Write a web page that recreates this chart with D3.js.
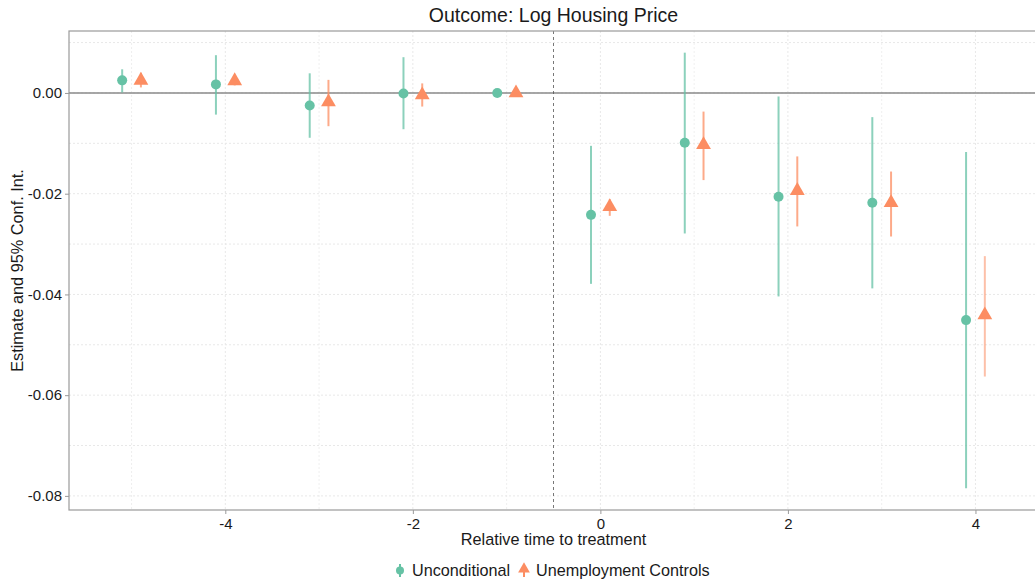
<!DOCTYPE html>
<html>
<head>
<meta charset="utf-8">
<style>
  body { margin: 0; background: #fff; font-family: "Liberation Sans", Arial, sans-serif; }
  svg { display: block; }
</style>
</head>
<body>
<svg width="1035" height="580"></svg>
<script src="https://cdn.jsdelivr.net/npm/d3@7"></script>
<script>
// relative periods
let periods = [-5, -4, -3, -2, -1, 0, 1, 2, 3, 4];

// Unconditional estimates and CI
let uncEst = [0.0025, 0.0017, -0.0025, -0.0001, 0, -0.0242, -0.0099, -0.0206, -0.0218, -0.0451];
let uncLo  = [0.0001, -0.0043, -0.0089, -0.0072, 0, -0.0379, -0.0279, -0.0404, -0.0388, -0.0785];
let uncHi  = [0.0047, 0.0075, 0.0039, 0.0071, 0, -0.0105, 0.0080, -0.0007, -0.0048, -0.0117];

// Unemployment controls estimates and CI
let ctlEst = [0.0025, 0.0024, -0.0018, -0.0004, 0, -0.0226, -0.0103, -0.0194, -0.0218, -0.0441];
let ctlLo  = [0.0011, 0.0015, -0.0066, -0.0027, 0, -0.0244, -0.0173, -0.0265, -0.0285, -0.0563];
let ctlHi  = [0.0040, 0.0033, 0.0026, 0.0019, 0, -0.0211, -0.0037, -0.0126, -0.0156, -0.0324];

let yTicks = [0, -0.02, -0.04, -0.06, -0.08];
let xTicks = [-4, -2, 0, 2, 4];

let green = "#66c2a5", orange = "#fc8d62";

let pLeft = 69, pTop = 31, pBottom = 510, pRight = 1038;

let svg = d3.select("svg");

let x = d3.scaleLinear().domain([-5.667, 4.667]).range([pLeft, pRight]);
let y = d3.scaleLinear().domain([0.0123, -0.0828]).range([pTop, pBottom]);

// grid
let grid = svg.append("g");
d3.range(-5, 5).forEach(t => {
  grid.append("line")
    .attr("x1", x(t)).attr("x2", x(t)).attr("y1", pTop).attr("y2", pBottom)
    .attr("stroke", "#e8e8e8").attr("stroke-width", t % 2 == 0 ? 1 : 0.7)
    .attr("stroke-dasharray", "2,2");
});
d3.range(0.01, -0.085, -0.01).forEach(v => {
  grid.append("line")
    .attr("x1", pLeft).attr("x2", pRight).attr("y1", y(v)).attr("y2", y(v))
    .attr("stroke", "#e8e8e8").attr("stroke-width", 1)
    .attr("stroke-dasharray", "2,2");
});

// zero line and treatment line
svg.append("line")
  .attr("x1", pLeft).attr("x2", pRight).attr("y1", y(0)).attr("y2", y(0))
  .attr("stroke", "#8a8a8a").attr("stroke-width", 1.5);
svg.append("line")
  .attr("x1", x(-0.5)).attr("x2", x(-0.5)).attr("y1", pTop).attr("y2", pBottom)
  .attr("stroke", "#555").attr("stroke-width", 0.8).attr("stroke-dasharray", "3,3");

// panel border
svg.append("rect")
  .attr("x", pLeft).attr("y", pTop).attr("width", pRight - pLeft).attr("height", pBottom - pTop)
  .attr("fill", "none").attr("stroke", "#9a9a9a").attr("stroke-width", 1.2);

// axes
let yAxis = svg.append("g").attr("transform", "translate(" + pLeft + ",0)")
  .call(d3.axisLeft(y).tickValues(yTicks).tickFormat(d3.format(".2f")).tickSize(4).tickPadding(3));
let xAxis = svg.append("g").attr("transform", "translate(0," + pBottom + ")")
  .call(d3.axisBottom(x).tickValues(xTicks).tickFormat(d => d).tickSize(4).tickPadding(4));
[yAxis, xAxis].forEach(a => {
  a.select(".domain").remove();
  a.selectAll(".tick line").attr("stroke", "#9a9a9a");
  a.selectAll(".tick text").attr("fill", "#1a1a1a").style("font-size", "15px")
    .style("font-family", "'Liberation Sans', Arial, sans-serif");
});
xAxis.selectAll(".tick text").text(d => d < 0 ? "-" + Math.abs(d) : d);
yAxis.selectAll(".tick text").text(d => d3.format(".2f")(d).replace("−", "-"));

// series
let series = [
  {est: uncEst, lo: uncLo, hi: uncHi, off: -0.1, color: green, shape: "circle"},
  {est: ctlEst, lo: ctlLo, hi: ctlHi, off: 0.1, color: orange, shape: "triangle"}
];

let tri = d3.symbol().type(d3.symbolTriangle).size(95);

series.forEach(s => {
  let g = svg.append("g");
  periods.forEach((t, i) => {
    if (s.lo[i] != s.hi[i]) {
      g.append("line")
        .attr("x1", x(t + s.off)).attr("x2", x(t + s.off))
        .attr("y1", y(s.lo[i])).attr("y2", y(s.hi[i]))
        .attr("stroke", s.color).attr("stroke-width", 2)
        .attr("stroke-opacity", t == 4 && s.shape == "triangle" ? 0.55 : 0.75);
    }
    if (s.shape == "circle") {
      g.append("circle")
        .attr("cx", x(t + s.off)).attr("cy", y(s.est[i])).attr("r", 5)
        .attr("fill", s.color);
    } else {
      g.append("path")
        .attr("d", tri)
        .attr("transform", "translate(" + x(t + s.off) + "," + y(s.est[i]) + ")")
        .attr("fill", s.color);
    }
  });
});

// titles
svg.append("text").attr("x", (pLeft + pRight) / 2).attr("y", 22)
  .attr("text-anchor", "middle").style("font-size", "19.5px").attr("fill", "#1a1a1a")
  .text("Outcome: Log Housing Price");
svg.append("text").attr("x", (pLeft + pRight) / 2).attr("y", 545)
  .attr("text-anchor", "middle").style("font-size", "16.3px").attr("fill", "#1a1a1a")
  .text("Relative time to treatment");
svg.append("text")
  .attr("transform", "translate(23," + (pTop + pBottom) / 2 + ") rotate(-90)")
  .attr("text-anchor", "middle").style("font-size", "16.3px").attr("fill", "#1a1a1a")
  .text("Estimate and 95% Conf. Int.");

// legend
let lg = svg.append("g");
lg.append("line").attr("x1", 400).attr("x2", 400).attr("y1", 564).attr("y2", 577)
  .attr("stroke", green).attr("stroke-width", 2);
lg.append("circle").attr("cx", 400).attr("cy", 570.5).attr("r", 4).attr("fill", green);
lg.append("text").attr("x", 412).attr("y", 576).style("font-size", "16.2px").attr("fill", "#1a1a1a")
  .text("Unconditional");
lg.append("line").attr("x1", 524).attr("x2", 524).attr("y1", 564).attr("y2", 577)
  .attr("stroke", orange).attr("stroke-width", 2);
lg.append("path").attr("d", d3.symbol().type(d3.symbolTriangle).size(60))
  .attr("transform", "translate(524,569)").attr("fill", orange);
lg.append("text").attr("x", 536).attr("y", 576).style("font-size", "16.2px").attr("fill", "#1a1a1a")
  .text("Unemployment Controls");
</script>
</body>
</html>
